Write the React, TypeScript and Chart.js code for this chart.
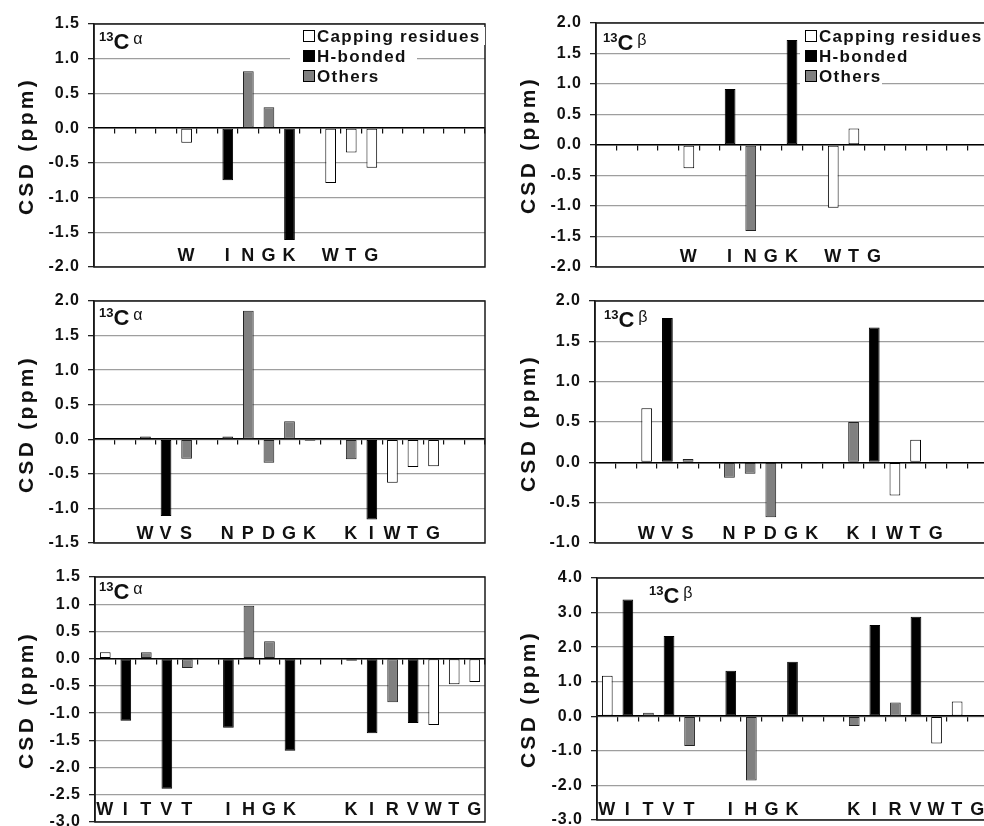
import React, { useEffect, useRef } from 'react';
import { Chart, registerables } from 'chart.js';

Chart.register(...registerables);

const FONT = '"Liberation Sans", Arial, Helvetica, sans-serif';

// Residue labels, 19 slots per row ('' = empty slot)
const row1Labels = ['', '', '', '', 'W', '', 'I', 'N', 'G', 'K', '', 'W', 'T', 'G', '', '', '', '', ''];
const row2Labels = ['', '', 'W', 'V', 'S', '', 'N', 'P', 'D', 'G', 'K', '', 'K', 'I', 'W', 'T', 'G', '', ''];
const row3Labels = ['W', 'I', 'T', 'V', 'T', '', 'I', 'H', 'G', 'K', '', '', 'K', 'I', 'R', 'V', 'W', 'T', 'G'];

// Residue class per slot: C = capping residues, H = H-bonded, O = others
const row1Types = ['', '', '', '', 'C', '', 'H', 'O', 'O', 'H', '', 'C', 'C', 'C', '', '', '', '', ''];
const row2Types = ['', '', 'C', 'H', 'O', '', 'O', 'O', 'O', 'O', 'O', '', 'O', 'H', 'C', 'C', 'C', '', ''];
const row3Types = ['C', 'H', 'O', 'H', 'O', '', 'H', 'O', 'O', 'H', '', '', 'O', 'H', 'O', 'H', 'C', 'C', 'C'];

// Chemical shift deviations (ppm)
const row1CaCSD = [null, null, null, null, -0.21, null, -0.75, 0.82, 0.30, -1.61, null, -0.79, -0.35, -0.57, null, null, null, null, null];
const row1CbCSD = [null, null, null, null, -0.38, null, 0.92, -1.41, null, 1.72, null, -1.03, 0.27, null, null, null, null, null, null];
const row2CaCSD = [null, null, 0.04, -1.11, -0.28, null, 0.04, 1.86, -0.34, 0.26, -0.02, null, -0.29, -1.16, -0.63, -0.40, -0.39, null, null];
const row2CbCSD = [null, null, 0.67, 1.79, 0.04, null, -0.19, -0.14, -0.68, null, -0.01, null, 0.50, 1.67, -0.41, 0.28, null, null, null];
const row3CaCSD = [0.12, -1.14, 0.12, -2.39, -0.17, null, -1.27, 0.97, 0.32, -1.69, null, null, -0.04, -1.37, -0.80, -1.18, -1.22, -0.47, -0.43];
const row3CbCSD = [1.17, 3.38, 0.10, 2.32, -0.86, null, 1.32, -1.86, null, 1.58, null, null, -0.28, 2.64, 0.40, 2.88, -0.79, 0.43, null];

const classKeys = ['C', 'H', 'O'];
const classNames = ['Capping residues', 'H-bonded', 'Others'];
const classFill = ['#ffffff', '#000000', '#808080'];
const classBorder = ['#000000', '#000000', '#222222'];

type PanelCfg = {
  labels: string[];
  types: string[];
  values: (number | null)[];
  nucleus: string;
  yMin: number;
  yMax: number;
  yStep: number;
  canvas: { x: number; y: number; w: number; h: number };
  axisW: number;
  pad: { left: number; right: number; top: number; bottom: number };
  letterPad: number;
  titleCenter: { x: number; y: number };
  isoPos: { x: number; y: number };
  legend?: { bgStart: number; boxX: number; rowY: number[]; rowEnd: number[] };
};

const panels: PanelCfg[] = [
  {
    labels: row1Labels, types: row1Types, values: row1CaCSD, nucleus: 'α',
    yMin: -2, yMax: 1.5, yStep: 0.5,
    canvas: { x: 0, y: 0, w: 492, h: 280 }, axisW: 94,
    pad: { left: 0, right: 7, top: 24, bottom: 13 }, letterPad: -21.3,
    titleCenter: { x: 25, y: 146 }, isoPos: { x: 99, y: 31 },
    legend: { bgStart: 290, boxX: 303, rowY: [36, 56, 76], rowEnd: [485, 417, 417] },
  },
  {
    labels: row1Labels, types: row1Types, values: row1CbCSD, nucleus: 'β',
    yMin: -2, yMax: 2, yStep: 0.5,
    canvas: { x: 492, y: 0, w: 500, h: 280 }, axisW: 104,
    pad: { left: 0, right: 4, top: 23, bottom: 13 }, letterPad: -21,
    titleCenter: { x: 527, y: 145 }, isoPos: { x: 603, y: 32 },
    legend: { bgStart: 800, boxX: 805, rowY: [36, 56, 76], rowEnd: [984, 984, 882] },
  },
  {
    labels: row2Labels, types: row2Types, values: row2CaCSD, nucleus: 'α',
    yMin: -1.5, yMax: 2, yStep: 0.5,
    canvas: { x: 0, y: 280, w: 492, h: 275 }, axisW: 94,
    pad: { left: 0, right: 7, top: 21, bottom: 12 }, letterPad: -19.8,
    titleCenter: { x: 25, y: 424 }, isoPos: { x: 99, y: 307 },
  },
  {
    labels: row2Labels, types: row2Types, values: row2CbCSD, nucleus: 'β',
    yMin: -1, yMax: 2, yStep: 0.5,
    canvas: { x: 492, y: 280, w: 500, h: 275 }, axisW: 103,
    pad: { left: 0, right: 4, top: 21, bottom: 12 }, letterPad: -19.8,
    titleCenter: { x: 527, y: 423 }, isoPos: { x: 604, y: 309 },
  },
  {
    labels: row3Labels, types: row3Types, values: row3CaCSD, nucleus: 'α',
    yMin: -3, yMax: 1.5, yStep: 0.5,
    canvas: { x: 0, y: 555, w: 492, h: 290 }, axisW: 95,
    pad: { left: 0, right: 7, top: 22, bottom: 23 }, letterPad: -22.8,
    titleCenter: { x: 25, y: 700 }, isoPos: { x: 99, y: 581 },
  },
  {
    labels: row3Labels, types: row3Types, values: row3CbCSD, nucleus: 'β',
    yMin: -3, yMax: 4, yStep: 1,
    canvas: { x: 492, y: 555, w: 500, h: 290 }, axisW: 105,
    pad: { left: 0, right: 4, top: 23, bottom: 25 }, letterPad: -20.8,
    titleCenter: { x: 527, y: 699 }, isoPos: { x: 649, y: 585 },
  },
];

const framePlugin = {
  id: 'frame',
  beforeDraw(chart: any) {
    chart.ctx.letterSpacing = '1px';
  },
  beforeDatasetsDraw(chart: any) {
    const { ctx, chartArea: a } = chart;
    ctx.save();
    ctx.strokeStyle = '#1a1a1a';
    ctx.lineWidth = 1.5;
    ctx.strokeRect(a.left, a.top, a.right - a.left, a.bottom - a.top);
    ctx.restore();
  },
};

function PanelChart({ cfg }: { cfg: PanelCfg }) {
  const ref = useRef<HTMLCanvasElement>(null);
  useEffect(() => {
    const datasets = classKeys.map((k, ci) => ({
      label: classNames[ci],
      data: cfg.values.map((v, i) => (cfg.types[i] === k ? v : null)),
      backgroundColor: classFill[ci],
      borderColor: classBorder[ci],
      borderWidth: 1,
      borderSkipped: false as const,
      grouped: false,
      barPercentage: 0.52,
      categoryPercentage: 1,
    }));
    const chart = new Chart(ref.current as HTMLCanvasElement, {
      type: 'bar',
      data: { labels: cfg.labels, datasets: datasets as any },
      plugins: [framePlugin],
      options: {
        responsive: false,
        maintainAspectRatio: false,
        animation: false,
        layout: { padding: cfg.pad },
        plugins: { legend: { display: false }, tooltip: { enabled: false } },
        scales: {
          x: {
            type: 'category',
            position: { y: 0 } as any,
            offset: true,
            ticks: { display: false },
            grid: {
              display: true,
              drawOnChartArea: false,
              drawTicks: true,
              tickLength: 5,
              color: '#111',
              lineWidth: 1.2,
              offset: true,
            },
            border: { display: true, color: '#000', width: 1.6 },
          },
          xl: {
            type: 'category',
            labels: cfg.labels,
            position: { y: cfg.yMin } as any,
            offset: true,
            grid: { display: false, drawTicks: false, offset: true },
            border: { display: false },
            ticks: {
              autoSkip: false,
              maxRotation: 0,
              minRotation: 0,
              padding: cfg.letterPad,
              color: '#111',
              font: { family: FONT, size: 18, weight: 'bold' },
            },
          },
          y: {
            min: cfg.yMin,
            max: cfg.yMax,
            afterFit: (s: any) => {
              s.width = cfg.axisW;
              s.paddingTop = 0;
              s.paddingBottom = 0;
            },
            ticks: {
              stepSize: cfg.yStep,
              padding: 8,
              color: '#111',
              font: { family: FONT, size: 16, weight: 'bold' },
              callback: (v: any) => Number(v).toFixed(1),
            },
            grid: { color: '#9e9e9e', lineWidth: 1.3, tickLength: 6, tickColor: '#222' },
            border: { display: true, color: '#111', width: 1.5 },
          },
        },
      } as any,
    });
    return () => chart.destroy();
  }, [cfg]);
  const c = cfg.canvas;
  return (
    <canvas
      ref={ref}
      width={c.w}
      height={c.h}
      style={{ position: 'absolute', left: c.x, top: c.y, width: c.w, height: c.h }}
    />
  );
}

function Overlays({ cfg }: { cfg: PanelCfg }) {
  return (
    <>
      <div
        style={{
          position: 'absolute',
          left: cfg.titleCenter.x,
          top: cfg.titleCenter.y,
          transform: 'translate(-50%, -50%) rotate(-90deg)',
          whiteSpace: 'nowrap',
          fontFamily: FONT,
          fontWeight: 700,
          fontSize: 21,
          letterSpacing: '3.3px',
          color: '#111',
          lineHeight: 1,
        }}
      >
        CSD (ppm)
      </div>
      <div
        style={{
          position: 'absolute',
          left: cfg.isoPos.x,
          top: cfg.isoPos.y,
          display: 'flex',
          alignItems: 'baseline',
          lineHeight: 1,
          fontFamily: FONT,
          color: '#111',
          whiteSpace: 'nowrap',
        }}
      >
        <span style={{ fontSize: 13, fontWeight: 700, position: 'relative', top: -8 }}>13</span>
        <span style={{ fontSize: 22, fontWeight: 700 }}>C</span>
        <span style={{ fontSize: 16, fontWeight: 400, marginLeft: 4, position: 'relative', top: -5 }}>
          {cfg.nucleus}
        </span>
      </div>
      {cfg.legend &&
        classNames.map((name, i) => {
          const lg = cfg.legend!;
          const left = lg.bgStart;
          return (
            <div
              key={name}
              style={{
                position: 'absolute',
                left,
                top: lg.rowY[i] - 9,
                width: lg.rowEnd[i] - left,
                height: 18,
                background: '#fff',
                display: 'flex',
                alignItems: 'center',
                paddingLeft: lg.boxX - left,
                boxSizing: 'border-box',
                overflow: 'hidden',
              }}
            >
              <span
                style={{
                  display: 'inline-block',
                  width: 12,
                  height: 12,
                  boxSizing: 'border-box',
                  border: '1px solid #000',
                  background: classFill[i],
                  flex: 'none',
                }}
              />
              <span
                style={{
                  marginLeft: 2,
                  fontFamily: FONT,
                  fontWeight: 700,
                  fontSize: 17,
                  letterSpacing: '1.3px',
                  color: '#111',
                  whiteSpace: 'nowrap',
                  lineHeight: 1,
                }}
              >
                {name}
              </span>
            </div>
          );
        })}
    </>
  );
}

export default function App() {
  return (
    <div
      style={{
        position: 'fixed',
        left: 0,
        top: 0,
        width: 984,
        height: 826,
        overflow: 'hidden',
        background: '#fff',
      }}
    >
      {panels.map((p, i) => (
        <PanelChart key={i} cfg={p} />
      ))}
      {panels.map((p, i) => (
        <Overlays key={'o' + i} cfg={p} />
      ))}
    </div>
  );
}
